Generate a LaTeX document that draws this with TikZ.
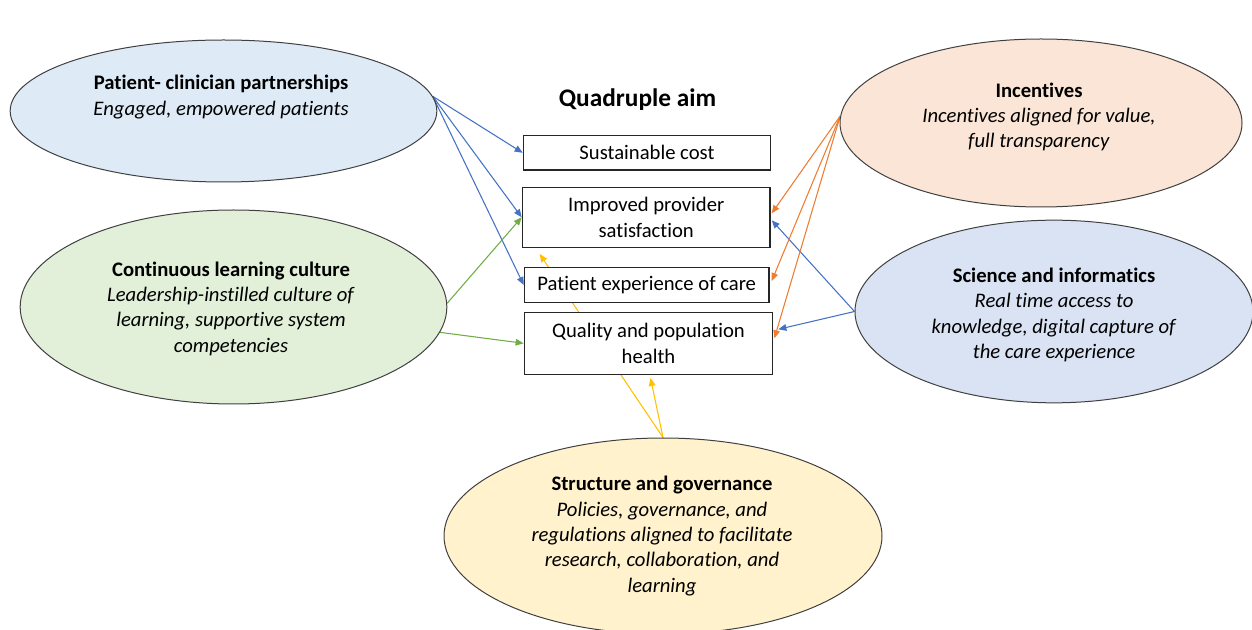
\documentclass[tikz,border=0pt]{standalone}
\usepackage{fontspec}
\setmainfont{Carlito}[Ligatures=NoCommon]
\usetikzlibrary{shapes.geometric,arrows.meta,calc,backgrounds}

\tikzset{every picture/.style={line width=0.75pt}}

\begin{document}
\begin{tikzpicture}[x=0.75pt,y=0.75pt,yscale=-1,xscale=1,
    pillar/.style={ellipse, draw={rgb, 255:red, 64; green, 64; blue, 64}, inner sep=0pt},
    pillartext/.style={align=center, inner sep=0pt, font=\fontsize{15.5}{19}\selectfont},
    aim/.style={draw={rgb, 255:red, 38; green, 38; blue, 38}, fill=white, line width=1pt, inner sep=0pt, align=center, font=\fontsize{15.5}{19}\selectfont},
    link/.style={-{Triangle[length=6pt,width=5pt]}, line width=0.8pt}]
    \useasboundingbox (0,0) rectangle (1252,630);

    %Shape: Ellipse [patient-clinician]
    \node [pillar, fill={rgb, 255:red, 222; green, 235; blue, 247}, minimum width=320pt, minimum height=106.5pt] (pcp) at (223.5,111) {};
    %Shape: Ellipse [learning culture]
    \node [pillar, fill={rgb, 255:red, 226; green, 240; blue, 217}, minimum width=320pt, minimum height=145.5pt] (clc) at (233.5,307) {};
    %Shape: Ellipse [incentives]
    \node [pillar, fill={rgb, 255:red, 251; green, 229; blue, 214}, minimum width=301.5pt, minimum height=126pt] (inc) at (1041,123) {};
    %Shape: Ellipse [science]
    \node [pillar, fill={rgb, 255:red, 218; green, 227; blue, 243}, minimum width=298.5pt, minimum height=137pt] (sci) at (1054,311.5) {};
    %Shape: Ellipse [governance]
    \node [pillar, fill={rgb, 255:red, 255; green, 242; blue, 204}, minimum width=328.5pt, minimum height=147pt] (gov) at (663,536) {};

    % Text Node
    \node [pillartext] (pcptext) at (221,97) {\textbf{Patient- clinician partnerships}\\\textit{Engaged, empowered patients}};
    % Text Node
    \node [pillartext] (clctext) at (231,308.5) {\textbf{Continuous learning culture}\\\textit{Leadership-instilled culture of}\\\textit{learning, supportive system}\\\textit{competencies}};
    % Text Node
    \node [pillartext] (inctext) at (1039,117) {\textbf{Incentives}\\\textit{Incentives aligned for value,}\\\textit{full transparency}};
    % Text Node
    \node [pillartext] (scitext) at (1054,315) {\textbf{Science and informatics}\\\textit{Real time access to}\\\textit{knowledge, digital capture of}\\\textit{the care experience}};
    % Text Node
    \node [pillartext] (govtext) at (662,536) {\textbf{Structure and governance}\\\textit{Policies, governance, and}\\\textit{regulations aligned to facilitate}\\\textit{research, collaboration, and}\\\textit{learning}};

    % Text Node
    \node [inner sep=0pt, font=\bfseries\fontsize{19}{23}\selectfont] (title) at (637.5,100) {Quadruple aim};

    %Shape: Rectangle [aims]
    \node [aim, minimum width=185.5pt, minimum height=26pt] (cost) at (647,152.8) {Sustainable cost};
    \node [aim, minimum width=185.8pt, minimum height=45pt] (prov) at (646.2,217.3) {Improved provider\\satisfaction};
    \node [aim, minimum width=183.5pt, minimum height=26.5pt] (pexp) at (646.7,285) {Patient experience of care};
    \node [aim, minimum width=186.3pt, minimum height=46.5pt] (qual) at (648.5,343.3) {Quality and population\\health};

    \coordinate (provtip) at ($(prov.south west)+(18,6)$);
    \coordinate (qualtip) at ($(qual.south)+(2,3)$);

    \begin{pgfonlayer}{background}
        %Straight Lines [blue]
        \draw [link, color={rgb, 255:red, 68; green, 114; blue, 196}] (pcp.4) -- (cost.west);
        \draw [link, color={rgb, 255:red, 68; green, 114; blue, 196}] (pcp.4) -- (prov.west);
        \draw [link, color={rgb, 255:red, 68; green, 114; blue, 196}] (pcp.4) -- (pexp.west);
        \draw [link, color={rgb, 255:red, 68; green, 114; blue, 196}] (sci.west) -- ($(prov.east)+(1,3)$);
        \draw [link, color={rgb, 255:red, 68; green, 114; blue, 196}] (sci.west) -- ($(qual.east)+(5,-14)$);
        %Straight Lines [green]
        \draw [link, color={rgb, 255:red, 112; green, 173; blue, 71}] (clc.1) -- (prov.west);
        \draw [link, color={rgb, 255:red, 112; green, 173; blue, 71}] (clc.-7) -- (qual.west);
        %Straight Lines [orange]
        \draw [link, color={rgb, 255:red, 237; green, 125; blue, 49}] (inc.178) -- ($(prov.east)+(1,-4)$);
        \draw [link, color={rgb, 255:red, 237; green, 125; blue, 49}] (inc.178) -- ($(pexp.east)+(2,-4)$);
        \draw [link, color={rgb, 255:red, 237; green, 125; blue, 49}] (inc.178) -- ($(qual.east)+(1,-5)$);
        %Straight Lines [yellow]
        \draw [link, color={rgb, 255:red, 255; green, 192; blue, 0}] (gov.north) -- (qualtip);
        \draw [link, color={rgb, 255:red, 255; green, 192; blue, 0}] (gov.north) -- (provtip);
    \end{pgfonlayer}

\end{tikzpicture}
\end{document}
